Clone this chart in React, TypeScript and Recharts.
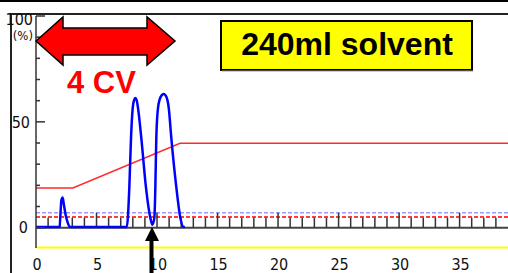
import { LineChart, Line, XAxis, YAxis, ReferenceLine } from "recharts";

// UV trace (blue), time in CV-ish units vs %
const uvTrace = [
  { x: 0, y: 0.3 },
  { x: 1.95, y: 0.3 },
  { x: 2.04, y: 8.4 },
  { x: 2.1, y: 13 },
  { x: 2.2, y: 14.2 },
  { x: 2.31, y: 10.7 },
  { x: 2.45, y: 6 },
  { x: 2.6, y: 2.7 },
  { x: 2.8, y: 0.3 },
  { x: 7.5, y: 0.3 },
  { x: 7.71, y: 18.8 },
  { x: 7.85, y: 42.4 },
  { x: 7.99, y: 56.5 },
  { x: 8.1, y: 60.2 },
  { x: 8.21, y: 61.3 },
  { x: 8.32, y: 60.2 },
  { x: 8.43, y: 56.5 },
  { x: 8.7, y: 42.4 },
  { x: 9.09, y: 18.8 },
  { x: 9.45, y: 4.6 },
  { x: 9.62, y: 1.4 },
  { x: 9.78, y: 4.6 },
  { x: 9.86, y: 18.8 },
  { x: 9.94, y: 42.4 },
  { x: 10.08, y: 56.5 },
  { x: 10.3, y: 61.8 },
  { x: 10.55, y: 63.2 },
  { x: 10.77, y: 61.8 },
  { x: 10.97, y: 56.5 },
  { x: 11.18, y: 42.4 },
  { x: 11.6, y: 18.8 },
  { x: 11.93, y: 4.6 },
  { x: 12.2, y: 0.3 },
  { x: 12.3, y: 0.3 },
];

// gradient (red)
const gradient = [
  { x: 0, y: 18.8 },
  { x: 3.05, y: 18.8 },
  { x: 11.9, y: 39.9 },
  { x: 39, y: 39.9 },
];

const xLabels = [0, 5, 10, 15, 20, 25, 30, 35];
const yTicks = [0, 10, 20, 30, 40, 50, 60, 70, 80, 90, 100];
const yLabels = [0, 50, 100];
const xMinorTicks = [
  1, 2, 3, 4, 5, 6, 7, 8, 9, 10, 11, 12, 13, 14, 15, 16, 17, 18, 19, 20, 21,
  22, 23, 24, 25, 26, 27, 28, 29, 30, 31, 32, 33, 34, 35, 36, 37, 38,
];

const thresholdUv = 7;
const thresholdRed = 5;
const baselineYellow = -9.4;

const FONT = "'Liberation Sans Narrow', 'DejaVu Sans Condensed', sans-serif";

function YTick(props: any) {
  const { x, y, payload } = props;
  const v = payload.value;
  const major = yLabels.includes(v);
  return (
    <g>
      <line x1={x} x2={x + (major ? 9 : 4)} y1={y} y2={y} stroke="#333" strokeWidth={1.5} />
      {v === 100 && (
        <g>
          <text x={x - 3} y={y + 9} textAnchor="end" fontSize={16} fontFamily={FONT} fill="#111">
            100
          </text>
          <text x={x - 3} y={y + 24} textAnchor="end" fontSize={13} fontFamily={FONT} fill="#111">
            (%)
          </text>
        </g>
      )}
      {v === 50 && (
        <text x={x - 6} y={y + 6} textAnchor="end" fontSize={16} fontFamily={FONT} fill="#111">
          50
        </text>
      )}
      {v === 0 && (
        <text x={x - 8} y={y + 5} textAnchor="end" fontSize={16} fontFamily={FONT} fill="#111">
          0
        </text>
      )}
    </g>
  );
}

function XTick(props: any) {
  const { x, y, payload } = props;
  return (
    <text x={x + 1} y={y + 22} textAnchor="middle" fontSize={16} fontFamily={FONT} fill="#111">
      {payload.value}
    </text>
  );
}

export default function App() {
  return (
    <div
      style={{
        position: "fixed",
        left: 0,
        top: 0,
        width: 508,
        height: 273,
        background: "#fff",
        overflow: "hidden",
      }}
    >
      {/* frame */}
      <div style={{ position: "absolute", left: 0, top: 0, width: 508, height: 2, background: "#000" }} />
      <div style={{ position: "absolute", left: 10, top: 13, width: 498, height: 1.5, background: "#222" }} />
      <div style={{ position: "absolute", left: 10, top: 13, width: 1.5, height: 260, background: "#222" }} />

      <div style={{ position: "absolute", left: 0, top: 0 }}>
        <LineChart width={508} height={273} margin={{ top: 16, right: 0, bottom: 0, left: 0 }}>
          <XAxis
            type="number"
            dataKey="x"
            domain={[0, 39]}
            ticks={xLabels}
            allowDataOverflow
            axisLine={false}
            tickLine={false}
            tickSize={0}
            tickMargin={0}
            height={25}
            tick={<XTick />}
            interval={0}
          />
          <YAxis
            type="number"
            domain={[-9.6, 100]}
            ticks={yTicks}
            allowDataOverflow
            width={36}
            axisLine={{ stroke: "#333", strokeWidth: 1.5 }}
            tickLine={false}
            tickSize={0}
            tickMargin={0}
            tick={<YTick />}
            interval={0}
          />
          <ReferenceLine y={baselineYellow} stroke="#ffff00" strokeWidth={2} />
          <ReferenceLine y={thresholdUv} stroke="#9a9aff" strokeWidth={1.5} strokeDasharray="4 2" />
          <ReferenceLine y={thresholdRed} stroke="#ff0000" strokeWidth={1.5} strokeDasharray="4 2" />
          <ReferenceLine y={0} stroke="#444" strokeWidth={2} />
          {xMinorTicks.map((t) => (
            <ReferenceLine
              key={t}
              segment={[
                { x: t, y: 0 },
                { x: t, y: t % 5 === 0 ? 7 : 4.7 },
              ]}
              stroke="#333"
              strokeWidth={1.5}
            />
          ))}
          <Line
            data={gradient}
            dataKey="y"
            type="linear"
            stroke="#ff2a2a"
            strokeWidth={1.5}
            dot={false}
            isAnimationActive={false}
          />
          <Line
            data={uvTrace}
            dataKey="y"
            type="monotone"
            stroke="#0000ff"
            strokeWidth={2.5}
            dot={false}
            isAnimationActive={false}
          />
        </LineChart>
      </div>

      {/* annotations */}
      <svg
        width={508}
        height={273}
        style={{ position: "absolute", left: 0, top: 0, pointerEvents: "none" }}
      >
        <polygon
          points="36,41 63,17 63,28 147,28 147,17 175,41 147,65 147,55 63,55 63,65"
          fill="#ff0000"
          stroke="#000"
          strokeWidth={1.5}
          strokeLinejoin="miter"
        />
        <text
          x={67}
          y={93}
          fontSize={31}
          fontWeight="bold"
          fontFamily="'Liberation Sans', Arial, sans-serif"
          fill="#ff0000"
        >
          4 CV
        </text>
        <rect x={221} y={21} width={251} height={49} fill="#ffff00" stroke="#000" strokeWidth={2} />
        <line x1={222} x2={473} y1={71} y2={71} stroke="#999" strokeWidth={1} />
        <text
          x={347}
          y={55}
          textAnchor="middle"
          fontSize={32}
          fontWeight="bold"
          fontFamily="'Liberation Sans', Arial, sans-serif"
          fill="#000"
        >
          240ml solvent
        </text>
        <polygon points="152,227 159,241 145,241" fill="#000" />
        <rect x={149.5} y={240} width={4} height={33} fill="#000" />
      </svg>
    </div>
  );
}
